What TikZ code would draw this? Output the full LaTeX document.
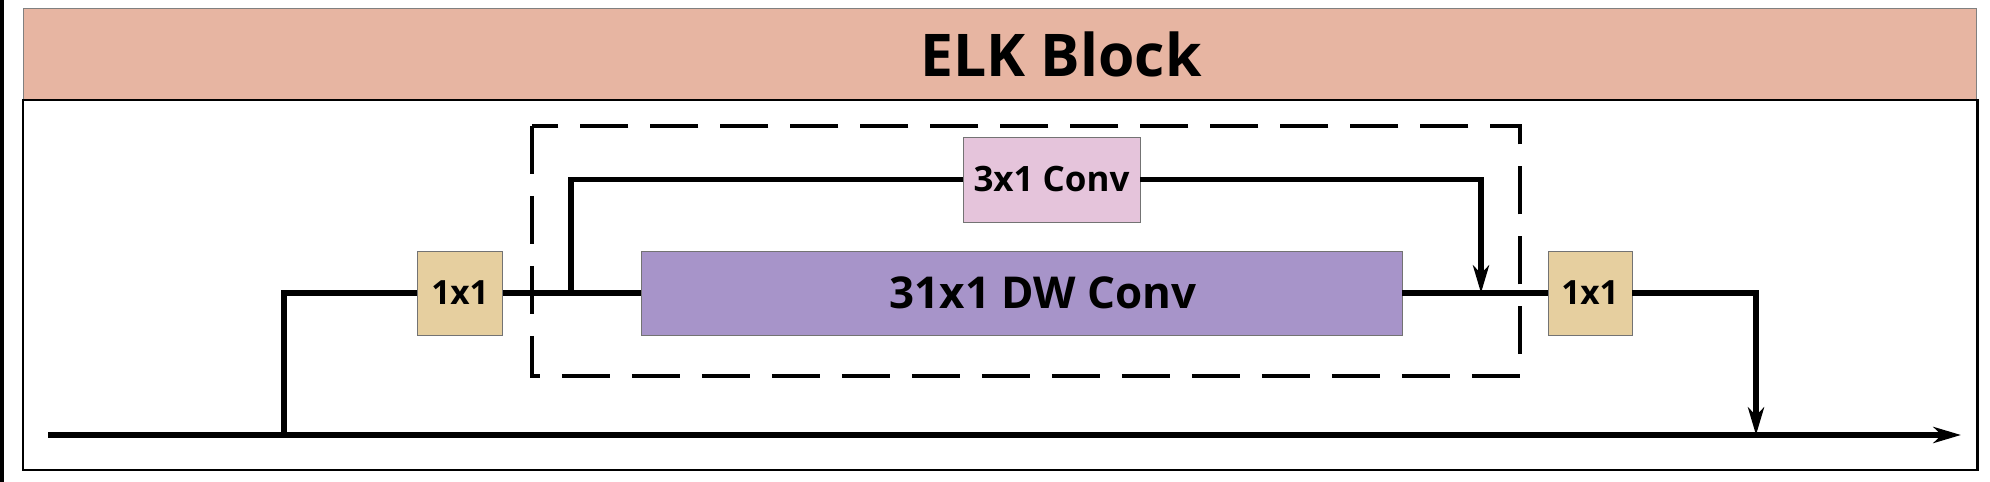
\documentclass[tikz,border=0pt]{standalone}
\usepackage{fontspec}
\setmainfont{Open Sans}
\usepackage{xcolor}
\usepackage{tikz}
\usetikzlibrary{arrows.meta}

\definecolor{headfill}{HTML}{E7B5A2}
\definecolor{dwfill}{HTML}{A794C9}
\definecolor{convfill}{HTML}{E5C4DB}
\definecolor{pwfill}{HTML}{E6CF9F}

\begin{document}
\begin{tikzpicture}[x=0.02cm, y=-0.02cm,
  blk/.style={draw=black!55, line width=0.5pt, inner sep=0pt, minimum height=1.68cm},
  flow/.style={line width=3.3pt},
  arr/.style={flow, -{Stealth[length=0.55cm, width=0.32cm, inset=0.16cm]}}]
\useasboundingbox (0,0) rectangle (1990,482);
\fill (0,0) rectangle (4,482);
% header and frame
\filldraw[fill=headfill, draw=black!50, line width=0.5pt] (23,8) rectangle (1976,100);
\draw[line width=1.7pt] (23,100) rectangle (1977,470);
\node (title) at (1061,54) {\fontsize{33.5}{40}\selectfont\bfseries ELK Block};
% dashed frame round the two branches
\draw[line width=2.5pt, dash pattern=on 0.96cm off 0.44cm] (532,126) rectangle (1520,376);

\node[blk, fill=pwfill, minimum width=1.70cm] (pwa) at (460,293) {\fontsize{19}{23}\selectfont\bfseries 1x1};
\node[blk, fill=dwfill, minimum width=15.22cm] (dw) at (1021.5,293) {};
\node (dwtext) at (1043,293) {\fontsize{25}{30}\selectfont\bfseries 31x1 DW Conv};
\node[blk, fill=convfill, minimum width=3.54cm, minimum height=1.70cm] (conv) at (1051.5,179.5) {\fontsize{19.9}{24}\selectfont\bfseries 3x1 Conv};
\node[blk, fill=pwfill, minimum width=1.68cm] (pwb) at (1590,293) {\fontsize{19}{23}\selectfont\bfseries 1x1};

\coordinate (in) at (48,435);
\coordinate (out) at (1961,435);
\coordinate (split) at (284,435);
\coordinate (fork) at (571,293);
\coordinate (join) at (1481,293);
\coordinate (merge) at (1756,435);

\draw[arr] (in) -- (out);
\draw[flow] (split) |- (pwa.west);
\draw[flow] (pwa.east) -- (dw.west);
\draw[flow] (fork) |- (conv.west);
\draw[arr] (conv.east) -| (join);
\draw[flow] (dw.east) -- (pwb.west);
\draw[arr] (pwb.east) -| (merge);
\end{tikzpicture}
\end{document}
